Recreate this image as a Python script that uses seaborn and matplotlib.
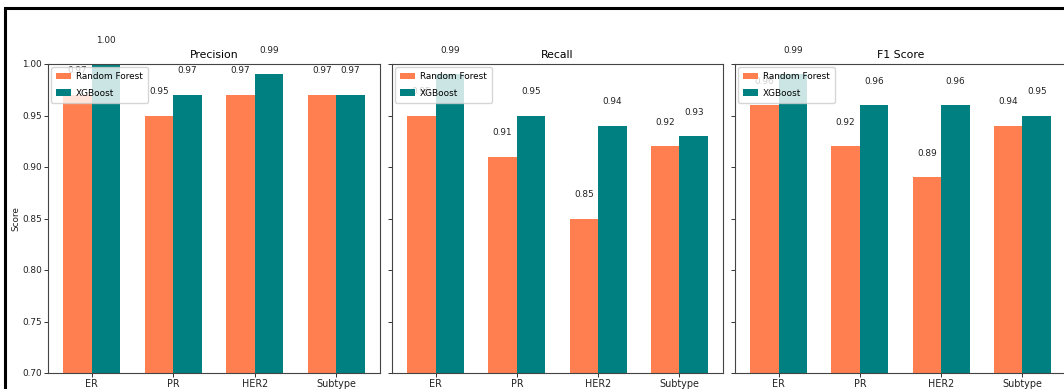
import matplotlib
matplotlib.use("Agg")
import matplotlib.pyplot as plt
from matplotlib.patches import Rectangle
import pandas as pd
import seaborn as sns

# Classification scores per target for the two models
targets = ["ER", "PR", "HER2", "Subtype"]
models = ["Random Forest", "XGBoost"]
precision_rf = [0.97, 0.95, 0.97, 0.97]
precision_xgb = [1.00, 0.97, 0.99, 0.97]
recall_rf = [0.95, 0.91, 0.85, 0.92]
recall_xgb = [0.99, 0.95, 0.94, 0.93]
f1_rf = [0.96, 0.92, 0.89, 0.94]
f1_xgb = [0.99, 0.96, 0.96, 0.95]
metric_titles = ["Precision", "Recall", "F1 Score"]
y_ticks = [0.70, 0.75, 0.80, 0.85, 0.90, 0.95, 1.00]

colors = ["coral", "teal"]

metric_values = [
    (precision_rf, precision_xgb),
    (recall_rf, recall_xgb),
    (f1_rf, f1_xgb),
]

plt.rcParams["font.family"] = ["DejaVu Sans"]

W, H = 1064, 389
fig = plt.figure(figsize=(W / 100, H / 100), dpi=100)

# axes boxes in pixels: (left, right)
boxes = [(48, 380), (392, 723), (735, 1066)]
top_px, bottom_px = 64, 373

axes = []
for l, r in boxes:
    ax = fig.add_axes([l / W, (H - bottom_px) / H, (r - l) / W, (bottom_px - top_px) / H])
    axes.append(ax)

for i, (ax, title, (rf, xgb)) in enumerate(zip(axes, metric_titles, metric_values)):
    df = pd.DataFrame({
        "Target": targets * 2,
        "Model": [models[0]] * len(targets) + [models[1]] * len(targets),
        "Score": list(rf) + list(xgb),
    })
    sns.barplot(data=df, x="Target", y="Score", hue="Model", hue_order=models,
                order=targets, palette=colors, saturation=1, width=0.7,
                linewidth=0, errorbar=None, ax=ax)

    for container in ax.containers:
        ax.bar_label(container, fmt="%.2f", padding=14, fontsize=6.4, color="#222222")

    ax.set_ylim(0.70, 1.00)
    ax.set_xlim(-0.535, 3.535)
    ax.set_yticks(y_ticks)
    ax.set_title(title, fontsize=7.8, pad=4)
    ax.set_xlabel("")
    ax.tick_params(axis="both", length=3, width=0.7, colors="#333333",
                   labelcolor="#222222")
    ax.tick_params(axis="x", pad=1.2, labelsize=6.9)
    ax.tick_params(axis="y", pad=1.5, labelsize=6.4)
    for sp in ax.spines.values():
        sp.set_color("#444444")
        sp.set_linewidth(0.8)
    if i == 0:
        ax.set_ylabel("Score", fontsize=6.4, color="#222222")
        ax.yaxis.set_label_coords(-0.082, 0.5)
    else:
        ax.set_ylabel("")
        ax.tick_params(labelleft=False)

    handles, labels = ax.get_legend_handles_labels()
    ax.legend(handles, labels, loc="upper left", fontsize=6.4, title=None,
              handlelength=1.6, handleheight=0.7, labelspacing=0.8, borderpad=0.6,
              handletextpad=0.6, borderaxespad=0.35, framealpha=0.8)

# outer frame around the figure
fig.patches.append(Rectangle((4.5 / W, -0.2), 1.2, 1.2 - 7.5 / H, transform=fig.transFigure,
                             fill=False, edgecolor="black", linewidth=2.2, clip_on=False))

fig.savefig("out.png", dpi=100)
